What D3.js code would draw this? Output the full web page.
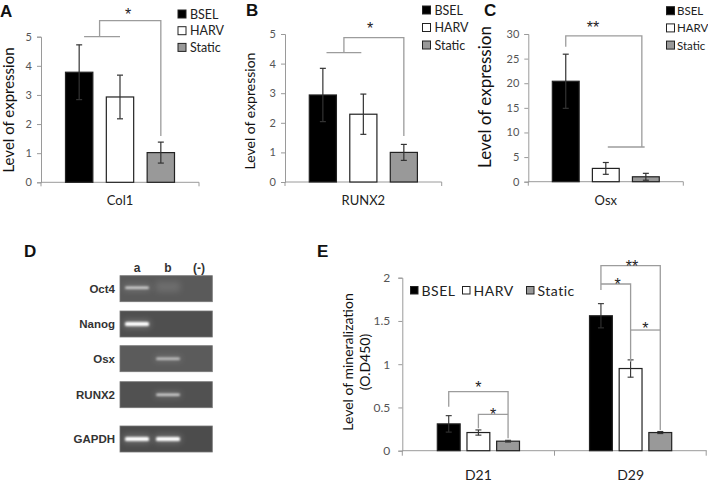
<!DOCTYPE html>
<html><head><meta charset="utf-8">
<script src="https://cdn.jsdelivr.net/npm/d3@7"></script>
<style>body{margin:0;background:#fff}svg{display:block}</style>
</head><body>
<svg id="c" width="708" height="483"></svg>
<script>
// ---------- data ----------
const groups = ["BSEL", "HARV", "Static"];
const col1Values = [3.78, 2.93, 1.02];
const col1Errors = [0.94, 0.75, 0.36];
const runx2Values = [2.94, 2.29, 1.0];
const runx2Errors = [0.9, 0.68, 0.27];
const osxValues = [20.4, 2.7, 1.0];
const osxErrors = [5.5, 1.2, 0.7];
const ticksAB = [0, 1, 2, 3, 4, 5];
const ticksC = [0, 5, 10, 15, 20, 25, 30];
const days = ["D21", "D29"];
const minBSEL = [0.31, 1.56], minBSELErr = [0.095, 0.14];
const minHARV = [0.21, 0.95], minHARVErr = [0.03, 0.1];
const minStatic = [0.11, 0.21], minStaticErr = [0.01, 0.012];
const ticksE = [0, 0.5, 1, 1.5, 2];
const genes = ["Oct4", "Nanog", "Osx", "RUNX2", "GAPDH"];
const lanes = ["a", "b", "(-)"];
const bandIntensity = [[0.7, 0.12, 0], [1, 0, 0], [0, 0.6, 0], [0, 0.7, 0], [1, 1, 0]];

// ---------- styles ----------
const fills = {BSEL: "#000", HARV: "#fff", Static: "#999"};
const axisCol = "#9a9a9a", tickTxt = "#555", brCol = "#9c9c9c";
const FONT = "Lato, 'Open Sans', sans-serif";
const STARFONT = "'Liberation Sans', Arial, sans-serif";
const svg = d3.select("#c");

function letter(t, x, y) {
  svg.append("text").attr("x", x).attr("y", y).text(t)
    .attr("font-family", "'Liberation Sans', Arial, sans-serif").attr("font-weight", "bold")
    .attr("font-size", 17).attr("fill", "#111");
}

function barPanel(c) {
  const g = svg.append("g");
  const y = d3.scaleLinear().domain([0, c.ticks[c.ticks.length - 1]]).range([c.y0, c.yTop]);
  const x = d3.scaleBand().domain(groups).range([c.x0, c.x1]).paddingInner(0.33).paddingOuter(0.6);
  const cx = i => x(groups[0]) + x.bandwidth() / 2 + i * x.step();
  const ya = g.append("g").attr("transform", `translate(${c.x0},0)`)
    .call(d3.axisLeft(y).tickValues(c.ticks).tickSize(4).tickPadding(5).tickFormat(d3.format("~g")));
  ya.select(".domain").attr("stroke", axisCol);
  ya.selectAll(".tick line").attr("stroke", axisCol);
  ya.selectAll("text").attr("font-family", FONT).attr("font-size", c.tickFs).attr("fill", tickTxt);
  g.append("line").attr("x1", c.x0).attr("x2", c.x1).attr("y1", c.y0).attr("y2", c.y0).attr("stroke", axisCol);
  [c.x0, c.x1].forEach(xx => g.append("line").attr("x1", xx).attr("x2", xx).attr("y1", c.y0).attr("y2", c.y0 + 4).attr("stroke", axisCol));
  g.append("text").attr("x", (c.x0 + c.x1) / 2).attr("y", c.y0 + 23).attr("text-anchor", "middle")
    .attr("font-family", FONT).attr("font-size", 13).attr("fill", "#222").text(c.category);
  g.selectAll("rect.bar").data(groups).join("rect")
    .attr("x", d => x(d)).attr("width", x.bandwidth())
    .attr("y", (d, i) => y(c.values[i])).attr("height", (d, i) => c.y0 - y(c.values[i]))
    .attr("fill", d => fills[d]).attr("stroke", "#222").attr("stroke-width", 1.2);
  groups.forEach((d, i) => {
    const xm = cx(i), t = y(c.values[i] + c.errors[i]), b = y(c.values[i] - c.errors[i]);
    g.append("line").attr("x1", xm).attr("x2", xm).attr("y1", t).attr("y2", b).attr("stroke", "#333").attr("stroke-width", 1.2);
    [t, b].forEach(v => g.append("line").attr("x1", xm - 3).attr("x2", xm + 3).attr("y1", v).attr("y2", v).attr("stroke", "#333").attr("stroke-width", 1.2));
  });
  c.brackets.forEach(p => g.append("path").attr("d", d3.line()(p.map(q => [cx(q[0]), y(q[1])])))
    .attr("fill", "none").attr("stroke", brCol).attr("stroke-width", 1.3));
  c.stars.forEach(s => g.append("text").attr("x", cx(s[0])).attr("y", y(s[1]) + 10).attr("text-anchor", "middle")
    .attr("font-family", STARFONT).attr("font-size", 16).attr("fill", "#222").text(s[2]));
  g.append("text").attr("transform", `translate(${c.title[0]},${c.title[1]}) rotate(-90)`).attr("text-anchor", "middle")
    .attr("font-family", FONT).attr("font-size", c.titleFs).attr("fill", "#111").text("Level of expression");
  groups.forEach((d, i) => {
    const ly = c.legend[1] + i * c.legend[2];
    g.append("rect").attr("x", c.legend[0]).attr("y", ly - 4).attr("width", 8).attr("height", 8)
      .attr("fill", fills[d]).attr("stroke", "#222").attr("stroke-width", 1);
    g.append("text").attr("x", c.legend[0] + c.legend[3]).attr("y", ly + 4.5).attr("font-family", FONT)
      .attr("font-size", c.legend[4]).attr("fill", "#222").text(d);
  });
}

barPanel({x0: 41, x1: 199, y0: 182.3, yTop: 36.7, ticks: ticksAB, values: col1Values, errors: col1Errors,
  category: "Col1", tickFs: 11, titleFs: 15, title: [14, 110], legend: [178, 14, 16.7, 12, 12.5],
  brackets: [[[0.12, 5.0], [1.0, 5.0]], [[0.5, 5.0], [0.5, 5.55], [2, 5.55], [2, 1.59]]],
  stars: [[1.2, 5.92, "*"]]});
barPanel({x0: 285, x1: 441.7, y0: 182, yTop: 34, ticks: ticksAB, values: runx2Values, errors: runx2Errors,
  category: "RUNX2", tickFs: 11, titleFs: 14, title: [255, 111], legend: [422.5, 10, 17.5, 12, 12.5],
  brackets: [[[0.09, 4.37], [0.95, 4.37]], [[0.52, 4.37], [0.52, 4.875], [2, 4.875], [2, 1.55]]],
  stars: [[1.17, 5.34, "*"]]});
barPanel({x0: 528.3, x1: 683.3, y0: 181.7, yTop: 34, ticks: ticksC, values: osxValues, errors: osxErrors,
  category: "Osx", tickFs: 11, titleFs: 17, title: [491, 97], legend: [666.5, 10.7, 17.2, 10.5, 11.5],
  brackets: [[[0, 27.4], [0, 29.6], [1.9, 29.6], [1.9, 7.05]], [[1.05, 7.05], [1.97, 7.05]]],
  stars: [[0.68, 32.2, "**"]]});

// ---------- panel D (gel) ----------
letter("A", 0, 17); letter("B", 246, 16); letter("C", 484, 16); letter("D", 24, 257); letter("E", 317, 257);
const gelTops = [275.7, 311, 345.7, 381.7, 426];
const laneX = d3.scalePoint().domain(lanes).range([137, 199]);
const defs = svg.append("defs");
defs.append("filter").attr("id", "blur").attr("x", "-30%").attr("y", "-100%").attr("width", "160%").attr("height", "300%")
  .append("feGaussianBlur").attr("stdDeviation", 0.9);
defs.append("filter").attr("id", "blur2").attr("x", "-50%").attr("y", "-200%").attr("width", "200%").attr("height", "500%")
  .append("feGaussianBlur").attr("stdDeviation", 3);
const gelBg = ["#5a5a5a", "#4f4f4f", "#5b5b5b", "#515151", "#4c4c4c"];
const gd = svg.append("g");
lanes.forEach(l => gd.append("text").attr("x", laneX(l)).attr("y", 272).attr("text-anchor", "middle")
  .attr("font-family", "'Liberation Sans', Arial, sans-serif").attr("font-weight", "bold").attr("font-size", 12).attr("fill", "#333").text(l));
genes.forEach((gn, gi) => {
  const top = gelTops[gi], h = 26;
  gd.append("rect").attr("x", 120).attr("y", top).attr("width", 92.3).attr("height", h)
    .attr("fill", gelBg[gi]).attr("stroke", "#777").attr("stroke-width", 0.8);
  gd.append("text").attr("x", 115).attr("y", top + h / 2 + 4).attr("text-anchor", "end")
    .attr("font-family", "'Liberation Sans', Arial, sans-serif").attr("font-weight", "bold").attr("font-size", 11.5).attr("fill", "#333").text(gn);
  lanes.forEach((l, li) => {
    const v = bandIntensity[gi][li];
    if (v <= 0) return;
    const bx = laneX(l) - 12, bw = 24;
    const thick = gi === 1 || gi === 4 ? 4 : 2.5;
    const by = gi === 0 ? top + 12 : top + h / 2;
    if (v < 0.3) {
      gd.append("rect").attr("x", bx).attr("y", top + 6).attr("width", bw).attr("height", 10)
        .attr("fill", "#fff").attr("opacity", v).attr("filter", "url(#blur2)");
    } else {
      gd.append("rect").attr("x", bx - 1).attr("y", by - thick / 2 - 1.5).attr("width", bw + 2).attr("height", thick + 3)
        .attr("fill", "#fff").attr("opacity", 0.25 * v).attr("filter", "url(#blur2)");
      gd.append("rect").attr("x", bx).attr("y", by - thick / 2).attr("width", bw).attr("height", thick).attr("rx", 1.5)
        .attr("fill", "#fff").attr("opacity", v).attr("filter", "url(#blur)");
    }
  });
});

// ---------- panel E ----------
(function () {
  const x0 = 402.3, x1 = 706.7, y0 = 450.7, yTop = 277.7;
  const g = svg.append("g");
  const y = d3.scaleLinear().domain([0, 2]).range([y0, yTop]);
  const xd = d3.scaleBand().domain(days).range([x0, x1]);
  const xg = d3.scaleBand().domain(groups).range([0, xd.bandwidth()]).paddingInner(0.23).paddingOuter(1.18);
  const cx = (d, i) => xd(d) + xg(groups[0]) + xg.bandwidth() / 2 + i * xg.step();
  const series = {BSEL: [minBSEL, minBSELErr], HARV: [minHARV, minHARVErr], Static: [minStatic, minStaticErr]};
  const ya = g.append("g").attr("transform", `translate(${x0},0)`)
    .call(d3.axisLeft(y).tickValues(ticksE).tickSize(4).tickPadding(8).tickFormat(d3.format("~g")));
  ya.select(".domain").attr("stroke", axisCol);
  ya.selectAll(".tick line").attr("stroke", axisCol);
  ya.selectAll("text").attr("font-family", FONT).attr("font-size", 12).attr("fill", tickTxt);
  g.append("line").attr("x1", x0).attr("x2", x1).attr("y1", y0).attr("y2", y0).attr("stroke", axisCol);
  [x0, xd("D29"), x1 - 0.5].forEach(xx => g.append("line").attr("x1", xx).attr("x2", xx).attr("y1", y0).attr("y2", y0 + 5).attr("stroke", axisCol));
  days.forEach(d => g.append("text").attr("x", xd(d) + xd.bandwidth() / 2).attr("y", y0 + 29).attr("text-anchor", "middle")
    .attr("font-family", FONT).attr("font-size", 14).attr("fill", "#222").text(d));
  days.forEach((d, di) => groups.forEach((gr, i) => {
    const v = series[gr][0][di], e = series[gr][1][di];
    g.append("rect").attr("x", xd(d) + xg(gr)).attr("width", xg.bandwidth()).attr("y", y(v)).attr("height", y0 - y(v))
      .attr("fill", fills[gr]).attr("stroke", "#222").attr("stroke-width", 1.2);
    const xm = cx(d, i);
    g.append("line").attr("x1", xm).attr("x2", xm).attr("y1", y(v + e)).attr("y2", y(v - e)).attr("stroke", "#333").attr("stroke-width", 1.1);
    [y(v + e), y(v - e)].forEach(t => g.append("line").attr("x1", xm - 3).attr("x2", xm + 3).attr("y1", t).attr("y2", t).attr("stroke", "#333").attr("stroke-width", 1.1));
  }));
  const br = [
    ["D21", [[0, 0.509], [0, 0.682], [2, 0.682], [2, 0.143]]],
    ["D21", [[1, 0.259], [1, 0.421], [2, 0.421]]],
    ["D29", [[0, 1.858], [0, 2.139], [2, 2.139], [2, 0.239]]],
    ["D29", [[0, 1.927], [1, 1.927], [1, 1.029]]],
    ["D29", [[1, 1.395], [2, 1.395]]]];
  br.forEach(([d, p]) => g.append("path").attr("d", d3.line()(p.map(q => [cx(d, q[0]), y(q[1])])))
    .attr("fill", "none").attr("stroke", brCol).attr("stroke-width", 1.3));
  const st = [["D21", 1, 0.78, "*"], ["D21", 1.5, 0.47, "*"], ["D29", 1.05, 2.18, "**"], ["D29", 0.56, 1.97, "*"], ["D29", 1.5, 1.46, "*"]];
  st.forEach(([d, i, v, t]) => g.append("text").attr("x", cx(d, i)).attr("y", y(v) + 10).attr("text-anchor", "middle")
    .attr("font-family", STARFONT).attr("font-size", 16).attr("fill", "#222").text(t));
  g.append("text").attr("transform", `translate(353,362) rotate(-90)`).attr("text-anchor", "middle")
    .attr("font-family", FONT).attr("font-size", 14).attr("fill", "#111").text("Level of mineralization");
  g.append("text").attr("transform", `translate(370,362) rotate(-90)`).attr("text-anchor", "middle")
    .attr("font-family", FONT).attr("font-size", 14).attr("fill", "#111").text("(O.D450)");
  const lx = [410.5, 462.5, 526.5];
  groups.forEach((d, i) => {
    g.append("rect").attr("x", lx[i]).attr("y", 286.5).attr("width", 7.5).attr("height", 7.5)
      .attr("fill", fills[d]).attr("stroke", "#222").attr("stroke-width", 1);
    g.append("text").attr("x", lx[i] + 11).attr("y", 296).attr("font-family", FONT).attr("font-size", 14)
      .attr("letter-spacing", 0.5).attr("fill", "#222").text(d);
  });
})();
</script>
</body></html>
